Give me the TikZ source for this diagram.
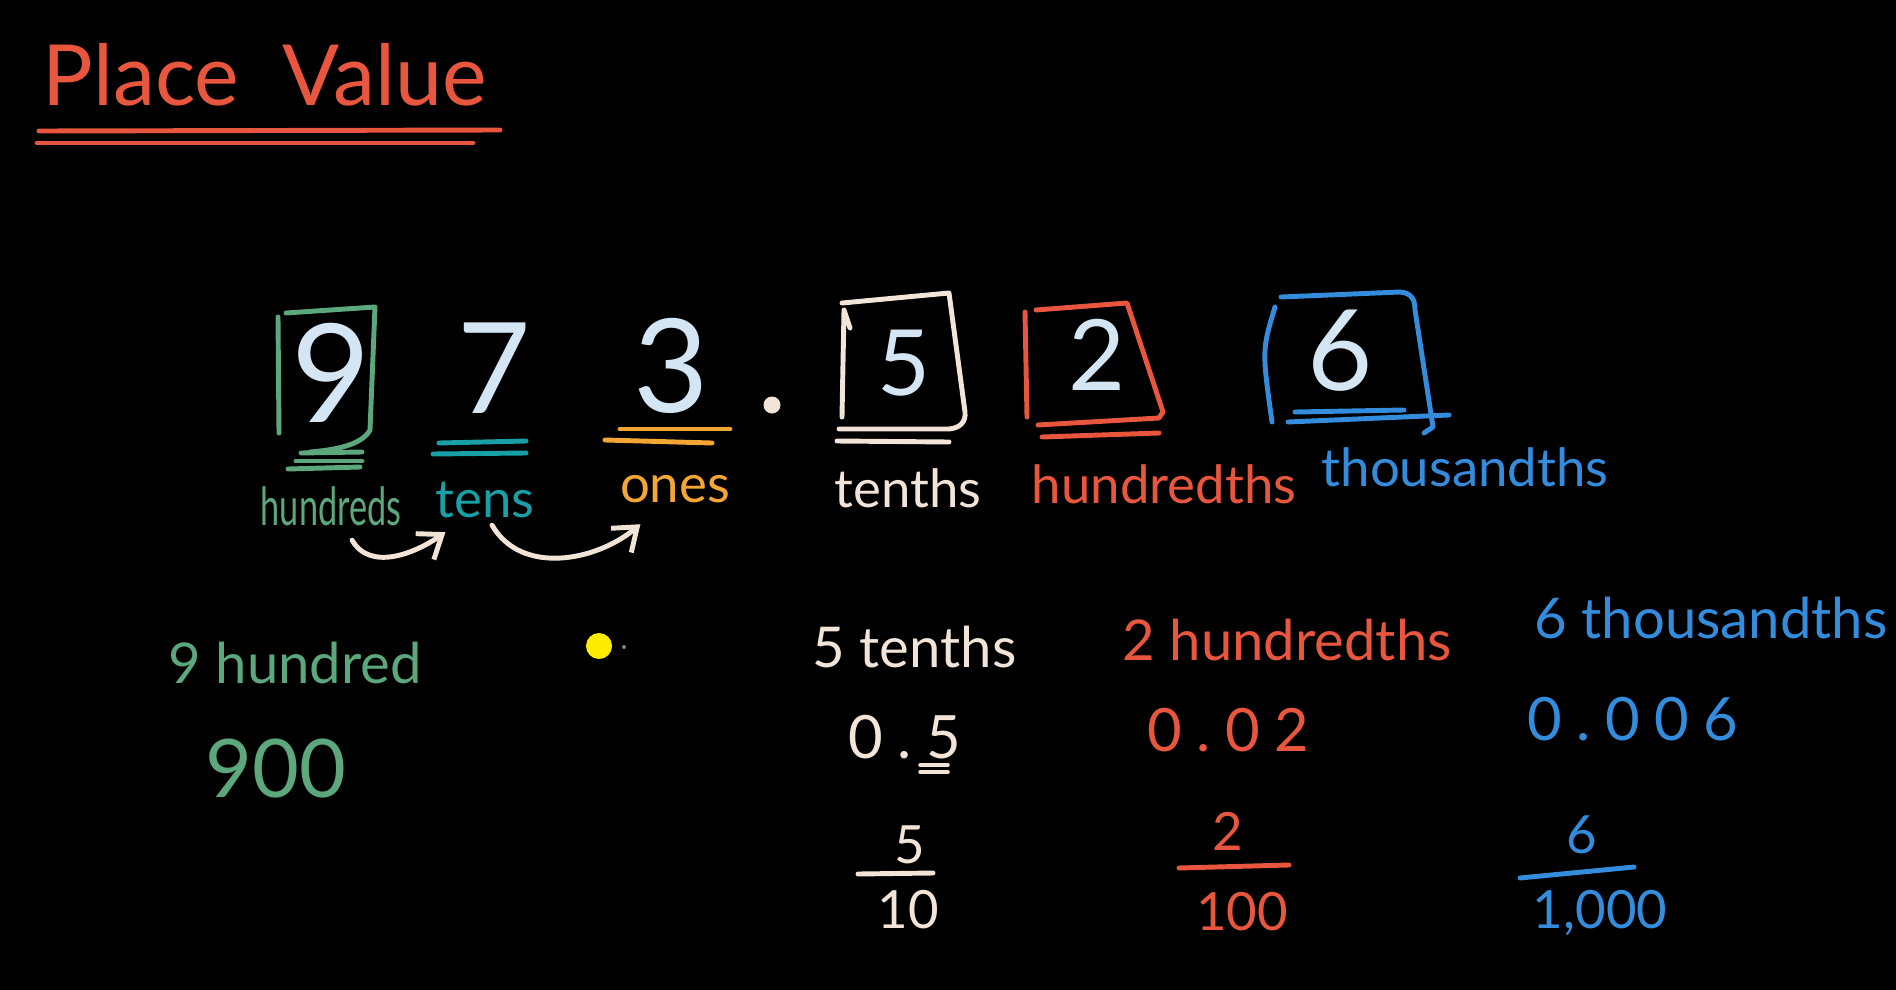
\documentclass[tikz,border=0pt]{standalone}
\usepackage{fontspec}
\setmainfont{Lato}
\newfontfamily\slimfont[FakeStretch=0.65]{Lato}
\newfontfamily\widefont[LetterSpace=24]{Lato}
\usetikzlibrary{arrows.meta}

\definecolor{kared}{RGB}{232,86,62}
\definecolor{kagreen}{RGB}{92,168,124}
\definecolor{kateal}{RGB}{24,160,166}
\definecolor{kaorange}{RGB}{244,166,52}
\definecolor{kacream}{RGB}{242,228,214}
\definecolor{kadigit}{RGB}{212,230,244}
\definecolor{kablue}{RGB}{52,140,220}
\definecolor{kayellow}{RGB}{255,236,0}

\tikzset{
  chalk/.style={line width=1.4pt, line cap=round, line join=round},
  numeral/.style={text=kadigit, inner sep=0pt, anchor=base,
    font=\fontsize{#1}{#1}\selectfont},
  place/.style={inner sep=0pt, anchor=base, font=\fontsize{15}{15}\selectfont},
  word/.style={inner sep=0pt, anchor=base west, font=\fontsize{16}{16}\selectfont},
  decimal/.style={inner sep=0pt, anchor=base west,
    font=\widefont\fontsize{17}{17}\selectfont},
  frac/.style={inner sep=0pt, anchor=base, font=\fontsize{15}{15}\selectfont},
  hop/.style={chalk, kacream, ->},
}

\begin{document}
\begin{tikzpicture}[>={Straight Barb[length=6pt,width=9pt]}]

\useasboundingbox (0,0) rectangle (18.96,-9.90);
\fill[black] (0,0) rectangle (18.96,-9.90);

% Title
\node[anchor=base west, inner sep=0pt, text=kared,
  font=\fontsize{24}{24}\selectfont] (title) at (0.42,-1.05) {Place\ \ Value};
\draw[chalk, kared] (0.39,-1.31) -- (5.00,-1.30);
\draw[chalk, kared] (0.37,-1.43) -- (4.73,-1.43);

% Digits
\node[numeral=39] (d9) at (3.31,-4.22) {9};
\node[numeral=36] (d7) at (4.94,-4.13) {7};
\node[numeral=37] (d3) at (6.71,-4.12) {3};
\node[numeral=26] (d5) at (9.04,-3.95) {5};
\node[numeral=28] (d2) at (10.97,-3.90) {2};
\node[numeral=32] (d6) at (13.40,-3.90) {6};
\fill[kacream] (7.72,-4.05) circle (0.085);

% Hundreds box
\draw[chalk, kagreen] (2.78,-3.17) -- (2.79,-4.33);
\draw[chalk, kagreen] (2.86,-3.13) -- (3.75,-3.07) -- (3.70,-4.30)
  .. controls (3.62,-4.45) and (3.35,-4.50) .. (3.10,-4.52);
\draw[chalk, kagreen] (3.01,-4.53) -- (3.62,-4.52);
\draw[chalk, kagreen] (2.96,-4.61) -- (3.62,-4.61);
\draw[chalk, kagreen] (2.88,-4.69) -- (3.60,-4.67);

% Tens and ones
\draw[chalk, kateal] (4.39,-4.43) -- (5.26,-4.41);
\draw[chalk, kateal] (4.33,-4.54) -- (5.26,-4.53);
\draw[chalk, kaorange] (6.20,-4.29) -- (7.30,-4.29);
\draw[chalk, kaorange] (6.05,-4.40) -- (7.12,-4.43);

% Tenths box
\draw[chalk, kacream] (8.42,-4.17) -- (8.44,-3.10) -- (8.50,-3.28);
\draw[chalk, kacream] (8.42,-3.03) -- (9.49,-2.93) -- (9.65,-4.12)
  .. controls (9.66,-4.22) and (9.60,-4.28) .. (9.49,-4.29) -- (8.39,-4.29);
\draw[chalk, kacream] (8.37,-4.41) -- (9.49,-4.42);

% Hundredths box
\draw[chalk, kared] (10.25,-3.12) -- (10.27,-4.17);
\draw[chalk, kared] (10.36,-3.10) -- (11.27,-3.03) -- (11.63,-4.12)
  -- (11.59,-4.18) -- (10.38,-4.25);
\draw[chalk, kared] (10.42,-4.37) -- (11.59,-4.33);

% Thousandths box
\draw[chalk, kablue] (12.75,-3.07) .. controls (12.62,-3.50) .. (12.72,-4.22);
\draw[chalk, kablue] (12.81,-2.97) -- (14.00,-2.92)
  .. controls (14.12,-2.93) and (14.15,-3.00) .. (14.15,-3.10)
  -- (14.33,-4.27) -- (14.24,-4.33);
\draw[chalk, kablue] (12.95,-4.12) -- (14.04,-4.10);
\draw[chalk, kablue] (12.88,-4.22) -- (14.49,-4.15);

% Place names
\node[place, text=kagreen, font=\slimfont\fontsize{15}{15}\selectfont]
  (hund) at (3.31,-5.25) {hundreds};
\node[place, text=kateal] (tens) at (4.85,-5.17) {tens};
\node[place, text=kaorange] (ones) at (6.75,-5.02) {ones};
\node[place, text=kacream] (tenths) at (9.08,-5.07) {tenths};
\node[place, text=kared] (hundths) at (11.64,-5.03) {hundredths};
\node[place, text=kablue] (thouths) at (14.65,-4.86) {thousandths};

% Arrows
\draw[hop] ([xshift=6pt,yshift=-4pt]hund.south)
  to[out=-60,in=-145] ([xshift=3pt,yshift=-4pt]tens.south west);
\draw[hop] ([xshift=2pt,yshift=-2pt]tens.south)
  to[out=-60,in=-140] ([xshift=6pt,yshift=-6pt]ones.south west);

% Hundreds column
\node[word, text=kagreen] (nine) at (1.68,-6.83) {9 hundred};
\node[anchor=base west, inner sep=0pt, text=kagreen,
  font=\fontsize{23}{23}\selectfont] (ninehund) at (2.05,-7.97) {900};

% Pointer
\fill[kayellow] (5.99,-6.46) circle (0.13);
\fill[gray] (6.24,-6.47) circle (0.02);

% Tenths column
\node[word, text=kacream] (fivet) at (8.12,-6.67) {5 tenths};
\node[decimal, text=kacream] (fivedec) at (8.48,-7.58) {0.5};
\draw[chalk, kacream, line width=1pt] (9.20,-7.65) -- (9.48,-7.65);
\draw[chalk, kacream, line width=1pt] (9.20,-7.72) -- (9.48,-7.72);
\node[frac, text=kacream] (fivenum) at (9.10,-8.63) {5};
\draw[chalk, kacream] (8.58,-8.74) -- (9.33,-8.73);
\node[frac, text=kacream] (fiveden) at (9.08,-9.28) {10};

% Hundredths column
\node[word, text=kared] (twoh) at (11.22,-6.60) {2 hundredths};
\node[decimal, text=kared] (twodec) at (11.47,-7.51) {0.02};
\node[frac, text=kared] (twonum) at (12.28,-8.50) {2};
\draw[chalk, kared] (11.79,-8.68) -- (12.89,-8.65);
\node[frac, text=kared] (twoden) at (12.42,-9.30) {100};

% Thousandths column
\node[word, text=kablue] (sixt) at (15.34,-6.38) {6 thousandths};
\node[decimal, text=kablue] (sixdec) at (15.27,-7.40) {0.006};
\node[frac, text=kablue] (sixnum) at (15.82,-8.53) {6};
\draw[chalk, kablue] (15.20,-8.78) -- (16.34,-8.67);
\node[frac, text=kablue] (sixden) at (16.00,-9.28) {1,000};

\end{tikzpicture}
\end{document}
